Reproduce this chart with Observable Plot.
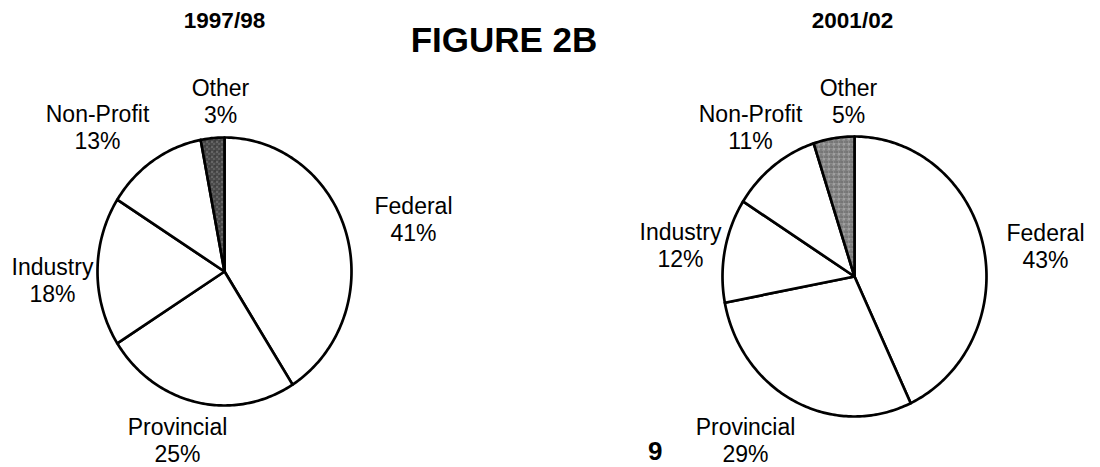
<!DOCTYPE html>
<html>
<head>
<meta charset="utf-8">
<script src="https://cdn.jsdelivr.net/npm/d3@7"></script>
<script src="https://cdn.jsdelivr.net/npm/@observablehq/plot@0.6"></script>
<style>
  html, body { margin: 0; padding: 0; background: #fff; }
  #wrap { position: relative; width: 1100px; height: 467px; overflow: hidden; font-family: "Liberation Sans", Arial, sans-serif; }
  #row { display: flex; }
  #fig { position: absolute; left: 0; width: 1008px; top: 20px; text-align: center; font-size: 35px; font-weight: bold; color: #000; }
  #page { position: absolute; left: 648px; top: 436px; font-size: 26px; font-weight: bold; color: #000; }
</style>
</head>
<body>
<div id="wrap">
  <div id="row"></div>
  <div id="fig">FIGURE 2B</div>
  <div id="page">9</div>
</div>
<script>
// ---- data ----
const years = ["1997/98", "2001/02"];
const sectors = ["Federal", "Provincial", "Industry", "Non-Profit", "Other"];
const shares1997 = [41, 25, 18, 13, 3];
const shares2001 = [43, 29, 12, 11, 5];

// ---- layout (pixels within each 550px-wide panel) ----
const layouts = [
  { cx: 224, cy: 271, rx: 127, ry: 134, title: [224, 20],
    labels: { "Other": [220, 100], "Non-Profit": [97, 126], "Federal": [413, 218], "Industry": [52, 279], "Provincial": [177, 439] },
    otherFill: "url(#stipDark)" },
  { cx: 304, cy: 276, rx: 132, ry: 140, title: [302, 20],
    labels: { "Other": [298, 100], "Non-Profit": [200, 126], "Industry": [130, 244], "Federal": [495, 245], "Provincial": [195, 439] },
    otherFill: "url(#stipLight)" }
];

function piePlot(shares, year, L) {
  const total = d3.sum(shares);
  const pts = [];
  let start = 0;
  shares.forEach((v, i) => {
    const end = start + v / total * 2 * Math.PI;
    const s = sectors[i];
    pts.push({ sector: s, x: 0, y: 0 });
    const n = Math.max(2, Math.ceil((end - start) / (Math.PI / 180)));
    for (let k = 0; k <= n; k++) {
      const a = start + (end - start) * k / n;
      pts.push({ sector: s, x: Math.sin(a), y: Math.cos(a) });
    }
    pts.push({ sector: s, x: 0, y: 0 });
    start = end;
  });
  const toU = ([px, py]) => [(px - L.cx) / L.rx, (L.cy - py) / L.ry];
  const labelData = sectors.map((s, i) => {
    const [ux, uy] = toU(L.labels[s]);
    return { x: ux, y: uy, text: `${s}\n${shares[i]}%` };
  });
  const [tx, ty] = toU(L.title);
  const svg = Plot.plot({
    width: 550, height: 467, margin: 0,
    style: { background: "transparent", fontFamily: "'Liberation Sans', Arial, sans-serif", overflow: "visible" },
    x: { domain: [-1, 1], range: [L.cx - L.rx, L.cx + L.rx], axis: null },
    y: { domain: [-1, 1], range: [L.cy + L.ry, L.cy - L.ry], axis: null },
    color: { type: "identity" },
    marks: [
      Plot.line(pts, { x: "x", y: "y", z: "sector",
        fill: d => d.sector === "Other" ? L.otherFill : "white",
        stroke: "black", strokeWidth: 2.7, strokeLinejoin: "round", curve: "linear" }),
      Plot.text(labelData, { x: "x", y: "y", text: "text", fontSize: 23, lineHeight: 1.2, fill: "black", lineAnchor: "middle" }),
      Plot.text([year], { x: () => tx, y: () => ty, text: d => d, fontSize: 22.5, fontWeight: "bold", fill: "black" })
    ]
  });
  const ns = "http://www.w3.org/2000/svg";
  const defs = document.createElementNS(ns, "defs");
  defs.innerHTML = `
    <pattern id="stipDark" width="5" height="5" patternUnits="userSpaceOnUse">
      <rect width="5" height="5" fill="#4a4a4a"/>
      <rect x="1" y="1" width="1" height="1" fill="#bbb"/>
      <rect x="3" y="3" width="1" height="1" fill="#999"/>
      <rect x="4" y="0" width="1" height="1" fill="#222"/>
    </pattern>
    <pattern id="stipLight" width="5" height="5" patternUnits="userSpaceOnUse">
      <rect width="5" height="5" fill="#8c8c8c"/>
      <rect x="1" y="1" width="1" height="1" fill="#333"/>
      <rect x="3" y="3" width="1" height="1" fill="#ddd"/>
      <rect x="4" y="1" width="1" height="1" fill="#444"/>
      <rect x="0" y="4" width="1" height="1" fill="#555"/>
    </pattern>`;
  svg.insertBefore(defs, svg.firstChild);
  return svg;
}

const row = document.getElementById("row");
row.appendChild(piePlot(shares1997, years[0], layouts[0]));
row.appendChild(piePlot(shares2001, years[1], layouts[1]));
</script>
</body>
</html>
